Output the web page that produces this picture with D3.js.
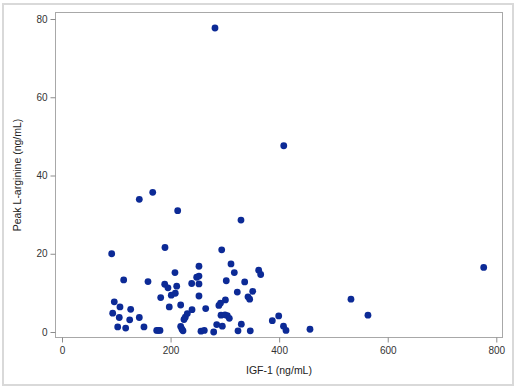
<!DOCTYPE html>
<html>
<head>
<meta charset="utf-8">
<script src="https://cdn.jsdelivr.net/npm/d3@7"></script>
<style>
  body { margin: 0; background: #fff; }
  text { font-family: "Liberation Sans", Arial, sans-serif; }
</style>
</head>
<body>
<script>
// IGF-1 (ng/mL) per subject
let igf = [91.5, 189.7, 113.6, 158.4, 208.1, 189.2, 195.2, 211.3, 238.9, 181.8,
  201.3, 208.7, 96.3, 106.8, 126.5, 93.4, 105.5, 124.7, 142.4, 197.6,
  218.6, 102.6, 117.3, 151.0, 174.4, 177.4, 180.5, 218.6, 221.0, 222.9,
  224.7, 227.1, 230.8, 239.5, 294.2, 252.3, 311.3, 317.4, 362.3, 366.0,
  248.1, 252.3, 252.3, 302.6, 336.5, 322.9, 351.3, 252.3, 342.6, 345.7,
  301.0, 292.0, 289.0, 264.7, 292.9, 300.2, 304.5, 308.2, 285.0, 295.3,
  330.3, 387.4, 399.2, 408.0, 412.6, 456.8, 256.0, 262.1, 279.4, 324.2,
  346.8, 532.3, 563.6, 776.8, 281.8, 408.5, 329.7, 142.4, 167.1, 213.1];
// Peak L-arginine (ng/mL) per subject
let arginine = [20.0, 21.6, 13.3, 12.9, 15.2, 12.2, 11.3, 11.7, 12.4, 8.8,
  9.4, 9.9, 7.7, 6.4, 5.8, 4.8, 3.7, 3.1, 3.7, 6.4,
  6.9, 1.3, 1.0, 1.3, 0.4, 0.4, 0.4, 1.4, 0.7, 0.3,
  3.2, 3.8, 4.7, 5.7, 21.0, 16.8, 17.4, 15.2, 15.8, 14.7,
  14.0, 14.3, 12.3, 13.1, 12.8, 10.2, 10.4, 9.2, 9.0, 8.4,
  8.2, 7.4, 6.8, 6.0, 4.3, 4.4, 4.2, 3.5, 1.9, 1.5,
  2.0, 2.9, 4.1, 1.5, 0.4, 0.7, 0.2, 0.4, 0.0, 0.3,
  0.3, 8.4, 4.3, 16.5, 77.7, 47.6, 28.6, 33.9, 35.7, 31.0];

let xTicks = [0, 200, 400, 600, 800];
let yTicks = [0, 20, 40, 60, 80];

let W = 517, H = 389;
let frame = {left: 55.5, right: 502.5, top: 12.5, bottom: 337.5};

let data = igf.map((v, i) => ({igf: v, arg: arginine[i]}));

let svg = d3.select("body").append("svg")
  .attr("width", W)
  .attr("height", H);

// outer border
svg.append("rect")
  .attr("x", 3).attr("y", 4)
  .attr("width", 510).attr("height", 381)
  .attr("fill", "#fff")
  .attr("stroke", "#d9d9d9")
  .attr("stroke-width", 2);

let x = d3.scaleLinear().domain([0, 800]).range([62, 496.3]);
let y = d3.scaleLinear().domain([0, 80]).range([332, 19]);

// plot wall
svg.append("rect")
  .attr("x", frame.left).attr("y", frame.top)
  .attr("width", frame.right - frame.left)
  .attr("height", frame.bottom - frame.top)
  .attr("fill", "#fff")
  .attr("stroke", "#a8a8a8")
  .attr("stroke-width", 1);

let xAxis = d3.axisBottom(x).tickValues(xTicks).tickSize(5).tickPadding(4);
let yAxis = d3.axisLeft(y).tickValues(yTicks).tickSize(5).tickPadding(3);

let gx = svg.append("g")
  .attr("transform", "translate(0," + frame.bottom + ")")
  .call(xAxis);
let gy = svg.append("g")
  .attr("transform", "translate(" + frame.left + ",0)")
  .call(yAxis);

[gx, gy].forEach(g => {
  g.select(".domain").remove();
  g.selectAll(".tick line").attr("stroke", "#8c8c8c");
  g.selectAll(".tick text")
    .attr("fill", "#333")
    .style("font-size", "10px")
    .style("font-family", "'Liberation Sans', Arial, sans-serif");
});

// axis titles
svg.append("text")
  .attr("x", (frame.left + frame.right) / 2)
  .attr("y", 374)
  .attr("text-anchor", "middle")
  .attr("fill", "#222")
  .style("font-size", "10.5px")
  .text("IGF-1 (ng/mL)");

svg.append("text")
  .attr("transform", "translate(21," + (frame.top + frame.bottom) / 2 + ") rotate(-90)")
  .attr("text-anchor", "middle")
  .attr("fill", "#222")
  .style("font-size", "10.5px")
  .text("Peak L-arginine (ng/mL)");

// points
svg.append("g")
  .selectAll("circle")
  .data(data)
  .enter()
  .append("circle")
  .attr("cx", d => x(d.igf))
  .attr("cy", d => y(d.arg))
  .attr("r", 3.4)
  .attr("fill", "#0c2a96");
</script>
</body>
</html>
